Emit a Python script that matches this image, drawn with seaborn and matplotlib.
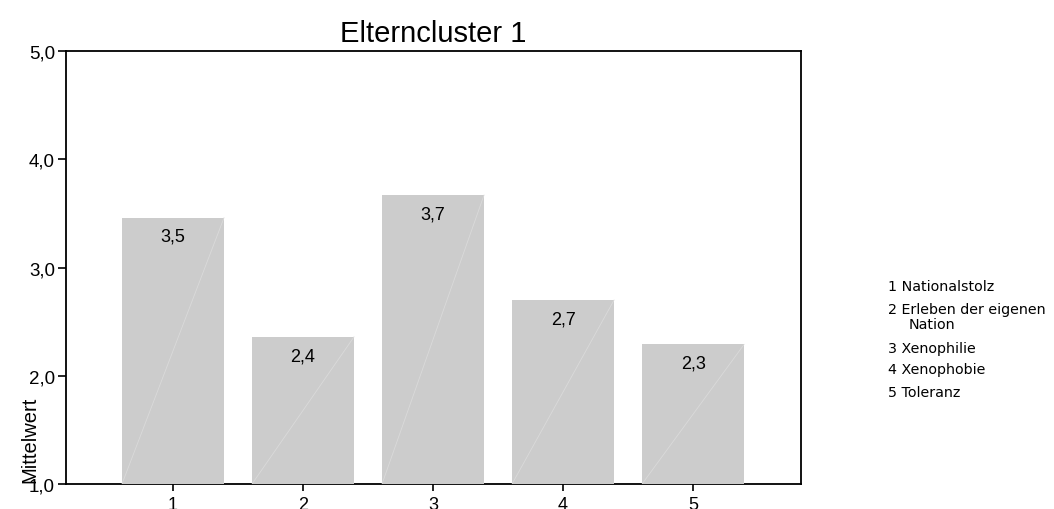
import matplotlib
matplotlib.use("Agg")
import matplotlib.pyplot as plt
import seaborn as sns
import pandas as pd
from matplotlib import font_manager

# Mean scores per scale
categories = ["1", "2", "3", "4", "5"]
means = [3.46, 2.36, 3.67, 2.70, 2.29]
scale_names = ["Nationalstolz", "Erleben der eigenen\nNation", "Xenophilie",
               "Xenophobie", "Toleranz"]
y_ticks = [1.0, 2.0, 3.0, 4.0, 5.0]

sns.set_theme(style="ticks")
plt.rcParams["font.family"] = ["Liberation Sans", "DejaVu Sans"]

names = {f.name for f in font_manager.fontManager.ttflist}
narrow = "Liberation Sans Narrow" if "Liberation Sans Narrow" in names else "Liberation Sans"

df = pd.DataFrame({"Skala": categories, "Mittelwert": means})

fig = plt.figure(figsize=(10.54, 5.10), dpi=100)
ax = fig.add_axes([66 / 1054, 1 - 485 / 510, 735 / 1054, 433 / 510])

sns.barplot(data=df, x="Skala", y="Mittelwert", color="#cccccc", saturation=1,
            width=0.785, ax=ax, zorder=1, linewidth=0)

# faint diagonal inside each bar
for p in ax.patches:
    x0 = p.get_x()
    x1, y1 = x0 + p.get_width(), p.get_y() + p.get_height()
    ax.plot([x0, x1], [1.0, y1], color="#dadada", lw=0.6, zorder=2)

ax.set_ylim(1.0, 5.0)
ax.set_xlim(-0.823, 4.83)
ax.set_yticks(y_ticks)
ax.set_yticklabels([f"{v:.1f}".replace(".", ",") for v in y_ticks], fontsize=13.5)
ax.set_xticks(range(len(categories)))
ax.set_xticklabels(categories, fontsize=13)
ax.tick_params(axis="y", direction="out", length=6, width=1.2, color="black",
               labelcolor="black", pad=2)
ax.tick_params(axis="x", direction="out", length=5, width=1.2, color="black",
               labelcolor="black", pad=4)

for side in ["left", "right", "top", "bottom"]:
    ax.spines[side].set_visible(True)
    ax.spines[side].set_color("black")
    ax.spines[side].set_linewidth(1.3)
ax.spines["bottom"].set_zorder(0)

ax.set_xlabel("")
ax.set_ylabel("")
fig.text(30 / 1054, 1 - 440 / 510, "Mittelwert", rotation=90, ha="center",
         va="center", fontsize=14.5, family=[narrow, "DejaVu Sans"], color="black")

for p, v in zip(ax.patches, means):
    ax.annotate(f"{v:.1f}".replace(".", ","),
                (p.get_x() + p.get_width() / 2, v),
                xytext=(0, -13.5), textcoords="offset points",
                ha="center", va="center", fontsize=13, color="black", zorder=3)

ax.set_title("Elterncluster 1", fontsize=21, color="black", pad=7)

# scale key on the right
y_pos = [287, 310, 349, 370, 393]
for i, (name, yp) in enumerate(zip(scale_names, y_pos)):
    lines = name.split("\n")
    fig.text(888 / 1054, 1 - yp / 510, f"{i + 1} {lines[0]}", fontsize=10.3,
             ha="left", va="center", color="black", family="DejaVu Sans")
    for k, extra in enumerate(lines[1:], start=1):
        fig.text(909 / 1054, 1 - (yp + 15 * k) / 510, extra, fontsize=10.3,
                 ha="left", va="center", color="black", family="DejaVu Sans")

fig.savefig("out.png", dpi=100)
